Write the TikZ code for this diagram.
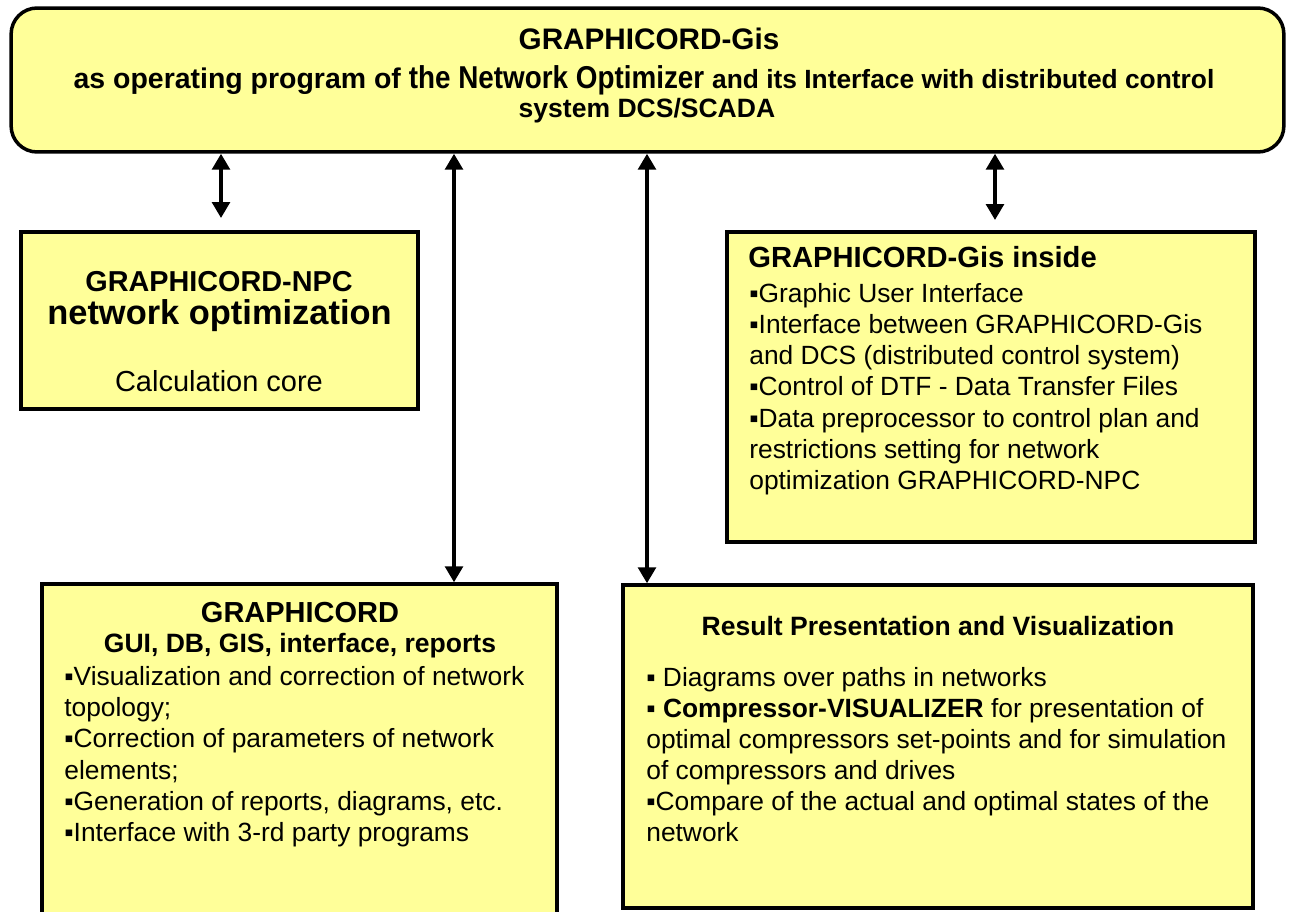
\documentclass[tikz,border=0pt]{standalone}
\usepackage{fontspec}
\setmainfont{Liberation Sans}
\newfontfamily\narrowsans[FakeStretch=0.88]{Liberation Sans}
\usetikzlibrary{arrows.meta,positioning}
\definecolor{Note}{HTML}{FFFF99}
\newcommand{\sq}{▪}
\tikzset{box/.style={draw=black,fill=Note,line width=2pt,inner sep=0pt},link/.style={{Triangle[width=10pt,length=9pt]}-{Triangle[width=10pt,length=9pt]},line width=2pt},head/.style={inner sep=0pt,anchor=base,font=\bfseries\fontsize{16.5}{19}\selectfont},item/.style={inner sep=0pt,anchor=north west,align=left,font=\fontsize{15}{17.6}\selectfont}}

\begin{document}
\begin{tikzpicture}[x=0.02cm,y=-0.02cm]
\fill[white] (0,0) rectangle (1289,912);
\useasboundingbox (0,0) rectangle (1289,912);
\node[box,rounded corners=0.52cm,minimum width=25.46cm,minimum height=2.88cm] (top) at (647.5,80) {};
\node[box,minimum width=7.94cm,minimum height=3.54cm] (npc) at (219.5,320.5) {};
\node[box,minimum width=10.56cm,minimum height=6.2cm] (gis) at (991,387) {};
\node[box,minimum width=10.3cm,minimum height=7.12cm] (gui) at (299.5,762) {};
\node[box,minimum width=12.6cm,minimum height=6.46cm] (res) at (938,746.5) {};
\node[head,font=\bfseries\fontsize{16.9}{19}\selectfont] (toptitle) at (649,50) {GRAPHICORD-Gis};
\node[head,font=\bfseries\fontsize{16.2}{18}\selectfont] (topsub) at (644,89) {as operating program of {\narrowsans\fontsize{18}{20}\selectfont the Network Optimizer} {\fontsize{15}{18}\selectfont and its Interface with distributed control}};
\node[head,font=\bfseries\fontsize{15.1}{18}\selectfont] (topsys) at (647,118) {system DCS/SCADA};
\node[head,font=\bfseries\fontsize{16.4}{19}\selectfont] (npcname) at (219,292) {GRAPHICORD-NPC};
\node[head,font=\bfseries\fontsize{19.6}{23}\selectfont] (npcopt) at (219.5,325) {network optimization};
\node[head,font=\fontsize{16.5}{19}\selectfont] (npccore) at (219,392) {Calculation core};
\node[head,anchor=base west,font=\bfseries\fontsize{16.6}{19}\selectfont] (gisname) at (748,268) {GRAPHICORD-Gis inside};
\node[item,font=\fontsize{15}{17.75}\selectfont] (gislist) at (749,280.2) {\strut\sq Graphic User Interface\\
\sq Interface between GRAPHICORD-Gis\\
and DCS (distributed control system)\\
\sq Control of DTF - Data Transfer Files\\
\sq Data preprocessor to control plan and\\
restrictions setting for network\\
optimization GRAPHICORD-NPC};
\node[head] (guiname) at (300,622) {GRAPHICORD};
\node[head,font=\bfseries\fontsize{15.1}{18}\selectfont] (guisub) at (300,652) {GUI, DB, GIS, interface, reports};
\node[item,font=\fontsize{15}{17.8}\selectfont] (guilist) at (64,663.1) {\strut\sq Visualization and correction of network\\
topology;\\
\sq Correction of parameters of network\\
elements;\\
\sq Generation of reports, diagrams, etc.\\
\sq Interface with 3-rd party programs};
\node[head,font=\bfseries\fontsize{15.1}{18}\selectfont] (resname) at (938,635) {Result Presentation and Visualization};
\node[item,font=\fontsize{15}{17.7}\selectfont] (reslist) at (646,664.2) {\strut\sq\ Diagrams over paths in networks\\
\sq\ \textbf{Compressor-VISUALIZER} for presentation of\\
optimal compressors set-points and for simulation\\
of compressors and drives\\
\sq Compare of the actual and optimal states of the\\
network};
\coordinate (npcin) at (221,218);
\coordinate (guiin) at (454,0);
\coordinate (resin) at (647,0);
\coordinate (gisin) at (995,220);
\draw[link] (top.south -| npcin) -- (npcin);
\draw[link] (top.south -| guiin) -- (gui.north -| guiin);
\draw[link] (top.south -| resin) -- (res.north -| resin);
\draw[link] (top.south -| gisin) -- (gisin);
\end{tikzpicture}
\end{document}
